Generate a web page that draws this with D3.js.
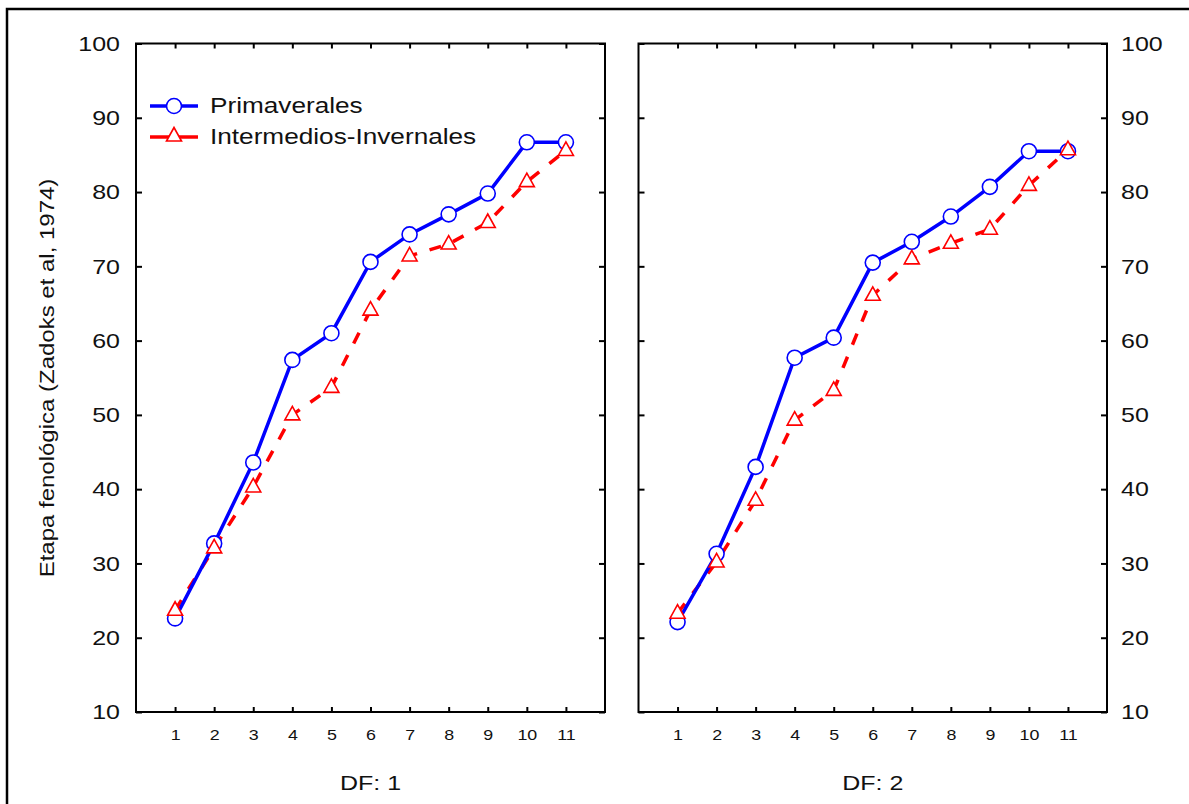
<!DOCTYPE html>
<html>
<head>
<meta charset="utf-8">
<script src="https://cdn.jsdelivr.net/npm/d3@7"></script>
<style>
  html, body { margin: 0; padding: 0; background: #fff; }
  svg { display: block; }
  svg text { font-family: "Liberation Sans", Arial, sans-serif; }
</style>
</head>
<body>
<svg id="chart" width="1189" height="804"></svg>
<script>
// ---- data ----
const categories = [1, 2, 3, 4, 5, 6, 7, 8, 9, 10, 11];
const yTicks = [10, 20, 30, 40, 50, 60, 70, 80, 90, 100];
const seriesNames = ["Primaverales", "Intermedios-Invernales"];
const panelTitles = ["DF: 1", "DF: 2"];
const df1Primaverales = [22.6, 32.7, 43.6, 57.4, 61.0, 70.6, 74.3, 77.0, 79.8, 86.7, 86.7];
const df1Intermedios  = [23.7, 32.1, 40.3, 50.0, 53.7, 64.1, 71.4, 73.0, 75.9, 81.4, 85.6];
const df2Primaverales = [22.1, 31.3, 43.0, 57.7, 60.4, 70.5, 73.3, 76.7, 80.7, 85.5, 85.5];
const df2Intermedios  = [23.3, 30.2, 38.5, 49.3, 53.3, 66.1, 71.0, 73.1, 75.0, 80.9, 85.7];
const yTitle = "Etapa fenológica (Zadoks et al, 1974)";

const BLUE = "#0000ff", RED = "#ff0000";
const SX = 1.19; // horizontal glyph stretch

const svg = d3.select("#chart");

// outer frame
svg.append("path").attr("d", "M7,804 V9 H1189")
  .attr("fill", "none").attr("stroke", "#000").attr("stroke-width", 2.5);

const plotTop = 43.5, plotBottom = 712;
const panels = [
  { x0: 136, x1: 605, prim: df1Primaverales, inter: df1Intermedios, title: panelTitles[0], labelsLeft: true },
  { x0: 638.5, x1: 1107, prim: df2Primaverales, inter: df2Intermedios, title: panelTitles[1], labelsLeft: false }
];

const y = d3.scaleLinear().domain([10, 100]).range([plotBottom, plotTop]);

function stretchText(sel, s) {
  sel.each(function () {
    const t = d3.select(this);
    const x = +t.attr("x") || 0;
    const yy = +t.attr("y") || 0;
    t.attr("x", 0).attr("y", 0)
     .attr("transform", `translate(${x},${yy}) scale(${s},1)`);
  });
}

const triPath = "M0,-8.5 L7.5,5 L-7.5,5 Z";

panels.forEach(p => {
  const x = d3.scaleLinear().domain([0, 12]).range([p.x0, p.x1]);
  const g = svg.append("g");

  // axes (inward ticks on all four sides)
  const left = g.append("g").attr("transform", `translate(${p.x0},0)`)
    .call(d3.axisLeft(y).tickValues(yTicks).tickSize(-6).tickPadding(16)
      .tickFormat(p.labelsLeft ? d3.format("d") : ""));
  const right = g.append("g").attr("transform", `translate(${p.x1},0)`)
    .call(d3.axisRight(y).tickValues(yTicks).tickSize(-6).tickPadding(14)
      .tickFormat(p.labelsLeft ? "" : d3.format("d")));
  const bot = g.append("g").attr("transform", `translate(0,${plotBottom})`)
    .call(d3.axisBottom(x).tickValues(categories).tickSize(-5).tickPadding(17));
  const topAx = g.append("g").attr("transform", `translate(0,${plotTop})`)
    .call(d3.axisTop(x).tickValues(categories).tickSize(-5).tickFormat(""));

  [left, right, bot, topAx].forEach(a => {
    a.attr("font-family", null);
    a.select(".domain").remove();
    a.selectAll(".tick line").attr("stroke", "#000").attr("stroke-width", 2);
    a.selectAll("text").attr("fill", "#111");
  });
  left.selectAll("text").attr("font-size", 21);
  right.selectAll("text").attr("font-size", 21);
  bot.selectAll("text").attr("font-size", 15);
  [left, right, bot].forEach(a => stretchText(a.selectAll("text"), SX));

  // frame
  g.append("rect").attr("x", p.x0).attr("y", plotTop)
    .attr("width", p.x1 - p.x0).attr("height", plotBottom - plotTop)
    .attr("fill", "none").attr("stroke", "#000").attr("stroke-width", 2);

  // lines
  const line = d3.line().x((d, i) => x(categories[i])).y(d => y(d));
  g.append("path").datum(p.inter).attr("d", line)
    .attr("fill", "none").attr("stroke", RED).attr("stroke-width", 3.5)
    .attr("stroke-dasharray", "12,13");
  g.append("path").datum(p.prim).attr("d", line)
    .attr("fill", "none").attr("stroke", BLUE).attr("stroke-width", 3.5);

  // markers
  g.selectAll(".circ").data(p.prim).enter().append("circle")
    .attr("cx", (d, i) => x(categories[i])).attr("cy", d => y(d)).attr("r", 7.5)
    .attr("fill", "#fff").attr("stroke", BLUE).attr("stroke-width", 1.6);
  g.selectAll(".tri").data(p.inter).enter().append("path")
    .attr("d", triPath)
    .attr("transform", (d, i) => `translate(${x(categories[i])},${y(d)})`)
    .attr("fill", "#fff").attr("stroke", RED).attr("stroke-width", 1.6);

  // x title
  g.append("text").attr("text-anchor", "middle").attr("font-size", 21).attr("fill", "#111")
    .attr("transform", `translate(${(p.x0 + p.x1) / 2},790) scale(${SX},1)`)
    .text(p.title);
});

// y title
svg.append("text").attr("text-anchor", "middle").attr("font-size", 20).attr("fill", "#111")
  .attr("transform", `translate(53.5,378) rotate(-90) scale(1.2,1)`)
  .text(yTitle);

// legend
const leg = svg.append("g");
leg.append("line").attr("x1", 150).attr("x2", 198).attr("y1", 106).attr("y2", 106)
  .attr("stroke", BLUE).attr("stroke-width", 3.5);
leg.append("circle").attr("cx", 174).attr("cy", 106).attr("r", 7.5)
  .attr("fill", "#fff").attr("stroke", BLUE).attr("stroke-width", 1.6);
leg.append("line").attr("x1", 150).attr("x2", 198).attr("y1", 137).attr("y2", 137)
  .attr("stroke", RED).attr("stroke-width", 3.5);
leg.append("path").attr("d", triPath).attr("transform", "translate(174,136)")
  .attr("fill", "#fff").attr("stroke", RED).attr("stroke-width", 1.6);
seriesNames.forEach((n, i) => {
  leg.append("text").attr("font-size", 22).attr("fill", "#111")
    .attr("transform", `translate(210,${113 + i * 31}) scale(${SX},1)`)
    .text(n);
});
</script>
</body>
</html>
